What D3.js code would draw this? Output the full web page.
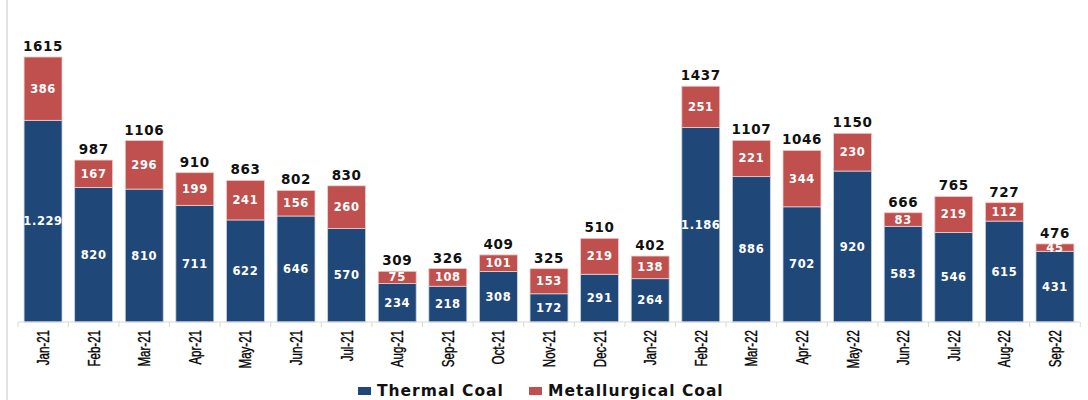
<!DOCTYPE html>
<meta charset="utf-8">
<style>
body { margin: 0; background: white; }
svg { display: block; }
</style>
<script src="https://d3js.org/d3.v7.min.js"></script>
<svg id="chart"></svg>
<script>
// data
var months = ["Jan-21","Feb-21","Mar-21","Apr-21","May-21","Jun-21","Jul-21","Aug-21","Sep-21","Oct-21","Nov-21","Dec-21","Jan-22","Feb-22","Mar-22","Apr-22","May-22","Jun-22","Jul-22","Aug-22","Sep-22"];
var thermal = [1229, 820, 810, 711, 622, 646, 570, 234, 218, 308, 172, 291, 264, 1186, 886, 702, 920, 583, 546, 615, 431];
var metallurgical = [386, 167, 296, 199, 241, 156, 260, 75, 108, 101, 153, 219, 138, 251, 221, 344, 230, 83, 219, 112, 45];
var totals = [1615, 987, 1106, 910, 863, 802, 830, 309, 326, 409, 325, 510, 402, 1437, 1107, 1046, 1150, 666, 765, 727, 476];
var thermalLabels = ["1.229","820","810","711","622","646","570","234","218","308","172","291","264","1.186","886","702","920","583","546","615","431"];
var seriesNames = ["Thermal Coal", "Metallurgical Coal"];

var W = 1088, H = 400;
var blue = "#1f4879", red = "#c0504d";
var svg = d3.select("#chart").attr("width", W).attr("height", H);

var x = d3.scaleBand().domain(months).range([18, 1080]).paddingInner(0.25).paddingOuter(0.12);
var y = d3.scaleLinear().domain([0, 1615]).range([322, 57]);

// left frame line
svg.append("line").attr("x1", 7).attr("x2", 7).attr("y1", 0).attr("y2", H)
  .attr("stroke", "#d9d9d9").attr("stroke-width", 1.5);

var rows = months.map(function(m, i){
  return {m: m, t: thermal[i], mc: metallurgical[i], tot: totals[i], tl: thermalLabels[i]};
});

var g = svg.append("g");
// thermal part
g.selectAll(".t").data(rows).enter().append("rect")
  .attr("x", d => x(d.m)).attr("width", x.bandwidth())
  .attr("y", d => y(d.t)).attr("height", d => y(0) - y(d.t))
  .attr("fill", blue).attr("stroke", "#c9d3e0").attr("stroke-width", 0.8);
// metallurgical part on top
g.selectAll(".mc").data(rows).enter().append("rect")
  .attr("x", d => x(d.m)).attr("width", x.bandwidth())
  .attr("y", d => y(d.t + d.mc)).attr("height", d => y(d.t) - y(d.t + d.mc))
  .attr("fill", red).attr("stroke", "#ead0cf").attr("stroke-width", 0.8);

var inner = {"font-family": "DejaVu Sans", "font-weight": "bold", "font-size": "11.5px", "letter-spacing": "0.6px", "fill": "white", "text-anchor": "middle"};
function styleText(sel, st){ for (var k in st) sel.attr(k, st[k]); return sel; }

styleText(g.selectAll(".tl").data(rows).enter().append("text")
  .attr("x", d => x(d.m) + x.bandwidth() / 2)
  .attr("y", d => (y(0) + y(d.t)) / 2 + 4)
  .text(d => d.tl), inner);
styleText(g.selectAll(".ml").data(rows).enter().append("text")
  .attr("x", d => x(d.m) + x.bandwidth() / 2)
  .attr("y", d => (y(d.t) + y(d.t + d.mc)) / 2 + 4)
  .text(d => d.mc), inner);

// totals above
g.selectAll(".tot").data(rows).enter().append("text")
  .attr("x", d => x(d.m) + x.bandwidth() / 2)
  .attr("y", d => y(d.tot) - 6)
  .attr("text-anchor", "middle")
  .attr("font-family", "DejaVu Sans").attr("font-weight", "bold").attr("font-size", "13.5px")
  .attr("letter-spacing", "0.6px")
  .attr("fill", "#111")
  .text(d => d.tot);

// x axis
var xAxis = svg.append("g").attr("transform", "translate(0,322)");
xAxis.append("line").attr("x1", 18).attr("x2", 1080).attr("stroke", "#d9d9d9").attr("stroke-width", 1.2);
var edges = [18].concat(months.map(m => x(m) + x.bandwidth() + (x.step() - x.bandwidth()) / 2));
xAxis.selectAll(".tick").data(edges).enter().append("line")
  .attr("x1", d => d).attr("x2", d => d)
  .attr("y1", 0).attr("y2", 5).attr("stroke", "#d9d9d9");
xAxis.selectAll(".lab").data(months).enter().append("text")
  .attr("transform", d => "translate(" + (x(d) + x.bandwidth() / 2 + 6) + ",8) rotate(-90) scale(0.72,1)")
  .attr("text-anchor", "end")
  .attr("font-family", "Liberation Sans Narrow, Liberation Sans, sans-serif")
  .attr("font-size", "16px").attr("fill", "#000")
  .attr("stroke", "#000").attr("stroke-width", 0.35)
  .text(d => d);

// legend
var legend = svg.append("g").attr("transform", "translate(358,387)");
var lx = [0, 171];
legend.selectAll("rect").data(seriesNames).enter().append("rect")
  .attr("x", (d, i) => lx[i]).attr("y", 0).attr("width", 13).attr("height", 8)
  .attr("fill", (d, i) => i === 0 ? blue : red);
legend.selectAll("text").data(seriesNames).enter().append("text")
  .attr("x", (d, i) => lx[i] + 19).attr("y", 8.5)
  .attr("font-family", "DejaVu Sans").attr("font-weight", "bold").attr("font-size", "15.5px")
  .attr("letter-spacing", "1px")
  .attr("fill", "#111")
  .text(d => d);
</script>
